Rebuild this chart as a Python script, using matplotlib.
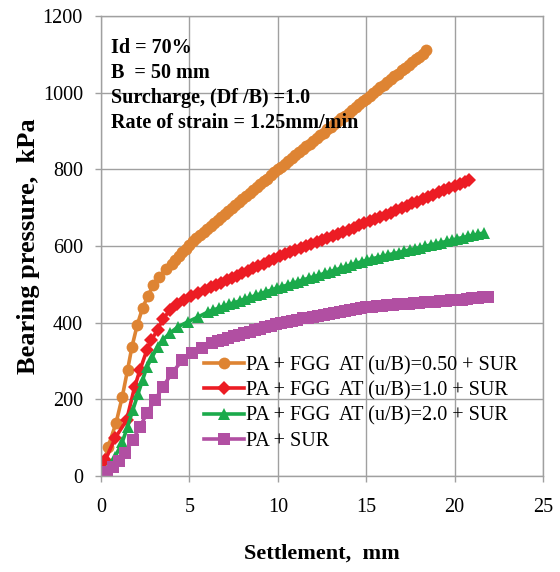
import matplotlib
matplotlib.use("Agg")
import matplotlib.pyplot as plt

# ---------------- data ----------------
x_050 = [0, 0.4, 0.85, 1.2, 1.5, 1.75, 2.05, 2.35, 2.65, 2.95, 3.3, 3.65,
         4.0, 4.2, 4.4, 4.6, 4.8, 5.0, 5.2, 5.4, 5.6, 5.8, 6.0, 6.2, 6.4, 6.6, 6.8,
         7.0, 7.2, 7.4, 7.6, 7.8, 8.0, 8.2, 8.4, 8.6, 8.8, 9.0, 9.2, 9.4, 9.6, 9.8,
         10.0, 10.2, 10.4, 10.6, 10.8, 11.0, 11.2, 11.4, 11.6, 11.8, 12.0, 12.2, 12.4,
         12.6, 12.8, 13.0, 13.2, 13.4, 13.6, 13.8, 14.0, 14.2, 14.4, 14.6, 14.8, 15.0,
         15.2, 15.4, 15.6, 15.8, 16.0, 16.2, 16.4, 16.6, 16.8, 17.0, 17.2, 17.4, 17.6,
         17.8, 18.0, 18.2, 18.4]
y_050 = [0, 76, 138, 206, 276, 337, 394, 438, 470, 497, 520, 540,
         552, 563, 574, 584, 593, 603, 612, 621, 629, 637, 645, 653, 661, 668, 676,
         684, 692, 700, 707, 715, 722, 730, 737, 745, 753, 761, 769, 776, 784, 792,
         800, 807, 815, 822, 830, 837, 845, 852, 860, 867, 874, 882, 889,
         896, 904, 911, 918, 926, 933, 940, 948, 955, 962, 970, 977, 984,
         992, 999, 1006, 1014, 1021, 1028, 1036, 1043, 1050, 1058, 1065, 1072, 1080,
         1087, 1094, 1102, 1110]

x_100 = [0, 0.25, 0.8, 1.45, 1.9, 2.2, 2.6, 2.85, 3.2, 3.5, 3.9, 4.3, 4.7, 5.1, 5.5, 5.9,
         6.2, 6.5, 6.8, 7.1, 7.4, 7.7, 8.0, 8.3, 8.6, 8.9, 9.2, 9.5, 9.8, 10.1, 10.4, 10.7,
         11.0, 11.3, 11.6, 11.9, 12.2, 12.5, 12.8, 13.1, 13.4, 13.7, 14.0, 14.3, 14.6, 14.9,
         15.2, 15.5, 15.8, 16.1, 16.4, 16.7, 17.0, 17.3, 17.6, 17.9, 18.2, 18.5, 18.8, 19.1,
         19.4, 19.7, 20.0, 20.3, 20.6, 20.8]
y_100 = [0, 42, 99, 146, 232, 276, 329, 355, 381, 410, 432, 448, 460, 470, 478, 486,
         492, 498, 504, 511, 517, 523, 529, 535, 542, 548, 554, 561, 567, 574, 579, 584,
         590, 595, 600, 605, 611, 616, 621, 627, 632, 637, 643, 648, 654, 659,
         664, 670, 676, 681, 687, 693, 699, 705, 711, 716, 722, 728, 734, 740,
         746, 752, 757, 763, 768, 772]

x_200 = [0, 0.8, 1.2, 1.5, 1.8, 2.1, 2.35, 2.6, 2.9, 3.2, 3.5, 3.9, 4.35, 4.9, 5.5, 6.05,
         6.35, 6.65, 6.95, 7.25, 7.55, 7.85, 8.15, 8.45, 8.75, 9.05, 9.35, 9.65, 9.95, 10.25,
         10.55, 10.85, 11.15, 11.45, 11.75, 12.05, 12.35, 12.65, 12.95, 13.25, 13.55, 13.85,
         14.15, 14.45, 14.75, 15.05, 15.35, 15.65, 15.95, 16.25, 16.55, 16.85, 17.15, 17.45,
         17.75, 18.05, 18.35, 18.65, 18.95, 19.25, 19.55, 19.85, 20.15, 20.45, 20.75, 21.05,
         21.35, 21.65]
y_200 = [0, 50, 88, 128, 172, 215, 250, 285, 311, 337, 355, 373, 389, 402, 415, 428,
         433, 438, 443, 448, 452, 457, 462, 466, 471, 476, 481, 485, 490, 494,
         498, 503, 507, 512, 516, 520, 524, 529, 533, 537, 542, 546,
         551, 555, 559, 563, 567, 570, 573, 577, 580, 583, 586, 590,
         593, 596, 599, 603, 606, 609, 612, 615, 619, 622, 625, 628,
         631, 634]

x_sur = [0, 0.35, 0.7, 1.0, 1.35, 1.8, 2.2, 2.6, 3.05, 3.5, 4.0, 4.6, 5.15, 5.7, 6.3,
         6.6, 6.9, 7.2, 7.5, 7.8, 8.1, 8.4, 8.7, 9.0, 9.3, 9.6, 9.9, 10.2, 10.5, 10.8,
         11.1, 11.4, 11.7, 12.0, 12.3, 12.6, 12.9, 13.2, 13.5, 13.8, 14.1, 14.4, 14.7,
         15.0, 15.3, 15.6, 15.9, 16.2, 16.5, 16.8, 17.1, 17.4, 17.7, 18.0, 18.3, 18.6,
         18.9, 19.2, 19.5, 19.8, 20.1, 20.4, 20.7, 21.0, 21.3, 21.6, 21.9]
y_sur = [0, 10, 24, 40, 60, 94, 128, 164, 198, 232, 268, 302, 322, 333, 347,
         351, 356, 360, 364, 368, 372, 376, 380, 384, 388, 392, 396, 399, 402, 405,
         408, 411, 413, 416, 418, 421, 423, 426, 428, 431, 433, 436, 438,
         440, 442, 443, 444, 446, 447, 448, 449, 450, 451, 452, 453, 454,
         455, 456, 457, 458, 459, 460, 462, 464, 465, 466, 468]

labels = ["PA + FGG  AT (u/B)=0.50 + SUR",
          "PA + FGG  AT (u/B)=1.0 + SUR",
          "PA + FGG  AT (u/B)=2.0 + SUR",
          "PA + SUR"]
x_ticks = [0, 5, 10, 15, 20, 25]
y_ticks = [0, 200, 400, 600, 800, 1000, 1200]
notes = ["Id = 70%", "B  = 50 mm", "Surcharge, (Df /B) =1.0", "Rate of strain = 1.25mm/min"]

# ---------------- plot ----------------
plt.rcParams['font.family'] = ['Liberation Serif', 'DejaVu Serif']
fig = plt.figure(figsize=(5.6, 5.72), dpi=100)
ax = fig.add_axes([101/560, 1-476/572, (543-101)/560, (476-16)/572])

series = [
    (x_050, y_050, '#DE8433', 'o', 8.5),
    (x_100, y_100, '#EC1C24', 'D', 7.2),
    (x_200, y_200, '#1BAA4B', '^', 9),
    (x_sur, y_sur, '#B14FA2', 's', 8),
]
for (xs, ys, c, m, ms), lab in zip(series, labels):
    ax.plot(xs, ys, color=c, marker=m, markersize=ms, lw=2.6, label=lab,
            markeredgewidth=0)

ax.set_xlim(0, 25)
ax.set_ylim(0, 1200)
ax.set_xticks(x_ticks)
ax.set_yticks(y_ticks)
ax.grid(True, color='#A0A0A0', lw=1.0)
ax.set_axisbelow(True)
for s in ax.spines.values():
    s.set_color('#A0A0A0')
    s.set_linewidth(1.0)
ax.tick_params(axis='both', labelsize=14.5, color='#A0A0A0', length=4, width=1)
ax.tick_params(axis='y', pad=9)
ax.tick_params(axis='x', pad=12)

ax.set_xlabel("Settlement,  mm", fontsize=16, fontweight='bold', labelpad=19)
ax.set_ylabel("Bearing pressure,  kPa", fontsize=19, fontweight='bold', labelpad=2)

for i, t in enumerate(notes):
    ax.text(111/560, 1-(53 + 25*i)/572, t, transform=fig.transFigure,
            fontsize=14.5, fontweight='bold', va='baseline', ha='left')

leg = ax.legend(loc='upper left', bbox_to_anchor=((204-101)/442, (476-356)/460),
                frameon=False, fontsize=14.5, handlelength=2.0, handletextpad=0.1,
                labelspacing=0.3, borderaxespad=0, borderpad=0)

fig.savefig("out.png", dpi=100)
